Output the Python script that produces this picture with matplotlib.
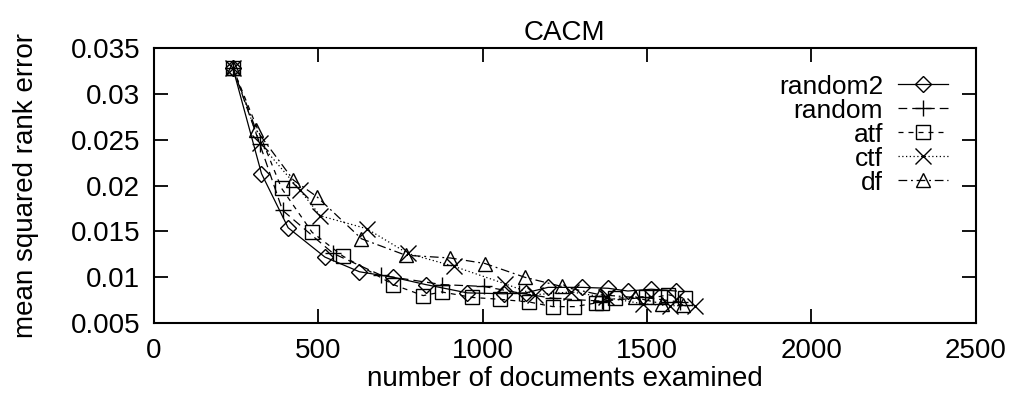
import matplotlib
matplotlib.use("Agg")
import matplotlib.pyplot as plt

# values (documents examined vs. mean squared rank error)
random2_x = [240, 327, 408, 520, 625, 728, 827, 953, 1064, 1131, 1199, 1301, 1382, 1442, 1513, 1589]
random2_y = [0.0328, 0.0213, 0.0154, 0.0122, 0.0106, 0.0100, 0.0092, 0.0083, 0.0082, 0.0083, 0.0089,
             0.0089, 0.0088, 0.0085, 0.0087, 0.0085]

random_x = [240, 322, 391, 545, 692, 877, 1003, 1110, 1215, 1362, 1493, 1600]
random_y = [0.0328, 0.0245, 0.0173, 0.0126, 0.0102, 0.0092, 0.0090, 0.0083, 0.0077, 0.0074, 0.0078, 0.0073]

atf_x = [240, 388, 481, 575, 728, 819, 875, 969, 1052, 1142, 1213, 1279, 1345, 1362, 1402, 1498,
         1539, 1564, 1615]
atf_y = [0.0328, 0.0197, 0.0149, 0.0123, 0.0092, 0.0080, 0.0084, 0.0078, 0.0076, 0.0073, 0.0068,
         0.0068, 0.0072, 0.0072, 0.0077, 0.0079, 0.0079, 0.0081, 0.0077]

ctf_x = [240, 322, 444, 506, 647, 772, 912, 1067, 1159, 1270, 1375, 1488, 1569, 1645]
ctf_y = [0.0328, 0.0246, 0.0195, 0.0167, 0.0153, 0.0126, 0.0112, 0.0093, 0.0081, 0.0084, 0.0078,
         0.0071, 0.0069, 0.0069]

df_x = [240, 310, 424, 495, 631, 766, 902, 1007, 1128, 1240, 1356, 1463, 1547, 1610]
df_y = [0.0328, 0.0261, 0.0206, 0.0188, 0.0142, 0.0124, 0.0121, 0.0115, 0.0100, 0.0090, 0.0081,
        0.0078, 0.0071, 0.0070]

x_ticks = [0, 500, 1000, 1500, 2000, 2500]
y_ticks = [0.005, 0.01, 0.015, 0.02, 0.025, 0.03, 0.035]
y_tick_labels = ["0.005", "0.01", "0.015", "0.02", "0.025", "0.03", "0.035"]

plt.rcParams["font.family"] = ["Liberation Sans", "DejaVu Sans"]
plt.rcParams["font.size"] = 20

fig = plt.figure(figsize=(10.1, 3.96), dpi=100)
ax = fig.add_axes([0.1525, 0.184, 0.8135, 0.695])

series = [
    (random2_x, random2_y, "random2", "D", "-", 8),
    (random_x, random_y, "random", "+", (0, (7, 4)), 12),
    (atf_x, atf_y, "atf", "s", (0, (4, 4)), 10),
    (ctf_x, ctf_y, "ctf", "x", (0, (1, 2)), 11),
    (df_x, df_y, "df", "^", (0, (7, 3, 1.5, 3)), 10),
]
for xs, ys, name, mk, ls, ms in series:
    ax.plot(xs, ys, color="black", lw=0.9, linestyle=ls, marker=mk, markersize=ms,
            markerfacecolor="none", markeredgecolor="black", markeredgewidth=1.0, label=name)

ax.set_xlim(0, 2500)
ax.set_ylim(0.005, 0.035)
ax.set_xticks(x_ticks)
ax.set_yticks(y_ticks)
ax.set_yticklabels(y_tick_labels)
ax.tick_params(direction="in", length=10, width=1.3, top=True, right=True)
ax.tick_params(axis="x", pad=11)
ax.tick_params(axis="y", pad=10)
for sp in ax.spines.values():
    sp.set_linewidth(1.5)

ax.set_title("CACM", fontsize=20, pad=6)
ax.set_xlabel("number of documents examined", labelpad=1)
ax.set_ylabel("mean squared rank error", labelpad=23)

leg = ax.legend(loc="center right", bbox_to_anchor=(0.966, 0.685), frameon=False, markerfirst=False,
                fontsize=19, handlelength=1.9, handletextpad=0.55, labelspacing=0.0,
                borderpad=0, borderaxespad=0)
# gnuplot style key: labels right-aligned against the samples
for col in leg._legend_handle_box.get_children():
    col.align = "right"

fig.savefig("out.png", dpi=100)
